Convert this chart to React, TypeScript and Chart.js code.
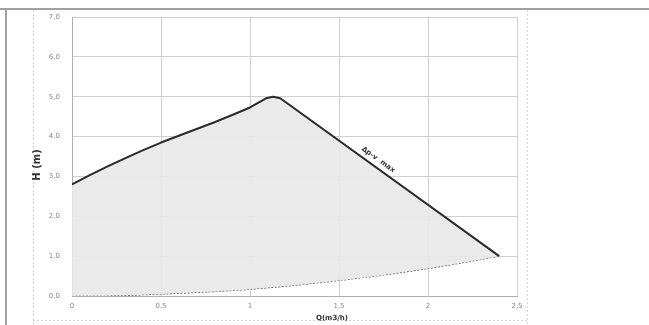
import React, { useEffect, useRef } from "react";
import { Chart, registerables } from "chart.js";

Chart.register(...registerables);

// Upper curve (Δp-v max) : flow Q (m3/h) and head H (m)
const topQ = [0, 0.1, 0.2, 0.3, 0.4, 0.5, 0.6, 0.7, 0.8, 0.9, 1.0, 1.05, 1.09, 1.13, 1.17, 2.4];
const topH = [2.8, 3.03, 3.25, 3.46, 3.66, 3.85, 4.02, 4.19, 4.36, 4.54, 4.73, 4.86, 4.96, 5.0, 4.96, 1.0];
// Lower system curve (dotted)
const lowQ = [0, 0.25, 0.5, 0.75, 1.0, 1.25, 1.5, 1.75, 2.0, 2.2, 2.4];
const lowH = [0, 0.01, 0.05, 0.1, 0.17, 0.27, 0.39, 0.53, 0.69, 0.84, 1.0];
const xTicks = [0, 0.5, 1, 1.5, 2, 2.5];
const yTicks = [0, 1, 2, 3, 4, 5, 6, 7];
const curveLabel = "Δp-v  max";
const xTitle = "Q(m3/h)";
const yTitle = "H (m)";

const fmtX = (v: number) => (v === 0 ? "0" : String(v).replace(".", ","));
const fmtY = (v: number) => v.toFixed(1).replace(".", ",");

export default function App() {
  const ref = useRef<HTMLCanvasElement | null>(null);
  useEffect(() => {
    const framePlugin = {
      id: "frame",
      beforeDraw(chart: any) {
        const c = chart.ctx;
        c.save();
        c.fillStyle = "#ffffff";
        c.fillRect(0, 0, chart.width, chart.height);
        c.restore();
      },
      afterDraw(chart: any) {
        const c = chart.ctx;
        const xs = chart.scales.x;
        const ys = chart.scales.y;
        c.save();
        // outer frame
        c.strokeStyle = "#a0a0a0";
        c.lineWidth = 2;
        c.beginPath();
        c.moveTo(0, 9);
        c.lineTo(649, 9);
        c.moveTo(6, 9);
        c.lineTo(6, 325);
        c.stroke();
        // dashed inner frame
        c.strokeStyle = "#d4d4d4";
        c.lineWidth = 1;
        c.setLineDash([2, 2]);
        c.beginPath();
        c.moveTo(33.5, 10);
        c.lineTo(33.5, 325);
        c.moveTo(527.5, 10);
        c.lineTo(527.5, 325);
        c.moveTo(33, 320.5);
        c.lineTo(527, 320.5);
        c.stroke();
        c.setLineDash([]);
        // curve label
        const px = xs.getPixelForValue(1.72);
        const py = ys.getPixelForValue(3.42);
        const ang = Math.atan2(
          ys.getPixelForValue(1.0) - ys.getPixelForValue(4.96),
          xs.getPixelForValue(2.4) - xs.getPixelForValue(1.17)
        );
        c.translate(px, py);
        c.rotate(ang);
        c.fillStyle = "#333333";
        c.font = "bold 7px 'DejaVu Sans'";
        c.textAlign = "center";
        c.textBaseline = "middle";
        c.fillText(curveLabel, 0, 0);
        c.restore();
        // x title
        c.save();
        c.fillStyle = "#333333";
        c.font = "bold 7px 'DejaVu Sans'";
        c.textAlign = "center";
        c.textBaseline = "middle";
        c.fillText(xTitle, 332, 318);
        // y title
        c.translate(37, 165);
        c.rotate(-Math.PI / 2);
        c.font = "bold 10px 'DejaVu Sans'";
        c.fillText(yTitle, 0, 0);
        c.restore();
      },
    };

    const chart = new Chart(ref.current as HTMLCanvasElement, {
      type: "scatter",
      data: {
        datasets: [
          {
            label: "top",
            data: topQ.map((q, i) => ({ x: q, y: topH[i] })),
            showLine: true,
            borderColor: "#2a2a2a",
            borderWidth: 2,
            borderJoinStyle: "round",
            pointRadius: 0,
            tension: 0,
            fill: "+1",
            backgroundColor: "rgba(232,232,232,0.9)",
          },
          {
            label: "low",
            data: lowQ.map((q, i) => ({ x: q, y: lowH[i] })),
            showLine: true,
            borderColor: "#555555",
            borderWidth: 1.2,
            borderDash: [2, 1.5],
            pointRadius: 0,
            tension: 0.3,
            fill: false,
          },
        ],
      },
      options: {
        animation: false,
        responsive: false,
        maintainAspectRatio: false,
        layout: { padding: { left: 8, right: 132, top: 17, bottom: 0 } },
        plugins: {
          legend: { display: false },
          tooltip: { enabled: false },
        },
        scales: {
          x: {
            type: "linear",
            min: 0,
            max: 2.5,
            afterBuildTicks(scale: any) {
              scale.ticks = xTicks.map((v) => ({ value: v }));
            },
            afterFit(scale: any) {
              scale.height = 29;
            },
            ticks: {
              callback: (v: any) => fmtX(Number(v)),
              color: "#888888",
              font: { size: 7, family: "DejaVu Sans" },
              padding: 6,
              maxRotation: 0,
            },
            grid: { color: "#cfcfcf", lineWidth: 1, drawTicks: false },
            border: { color: "#b0b0b0" },
          },
          y: {
            type: "linear",
            min: 0,
            max: 7,
            afterBuildTicks(scale: any) {
              scale.ticks = yTicks.map((v) => ({ value: v }));
            },
            afterFit(scale: any) {
              scale.width = 64;
            },
            ticks: {
              callback: (v: any) => fmtY(Number(v)),
              color: "#888888",
              font: { size: 7, family: "DejaVu Sans" },
              padding: 12,
            },
            grid: { color: "#cfcfcf", lineWidth: 1, drawTicks: false },
            border: { color: "#b0b0b0" },
          },
        },
      },
      plugins: [framePlugin],
    } as any);
    return () => chart.destroy();
  }, []);
  return (
    <div style={{ position: "absolute", left: 0, top: 0, width: 649, height: 325 }}>
      <canvas ref={ref} width={649} height={325} />
    </div>
  );
}
